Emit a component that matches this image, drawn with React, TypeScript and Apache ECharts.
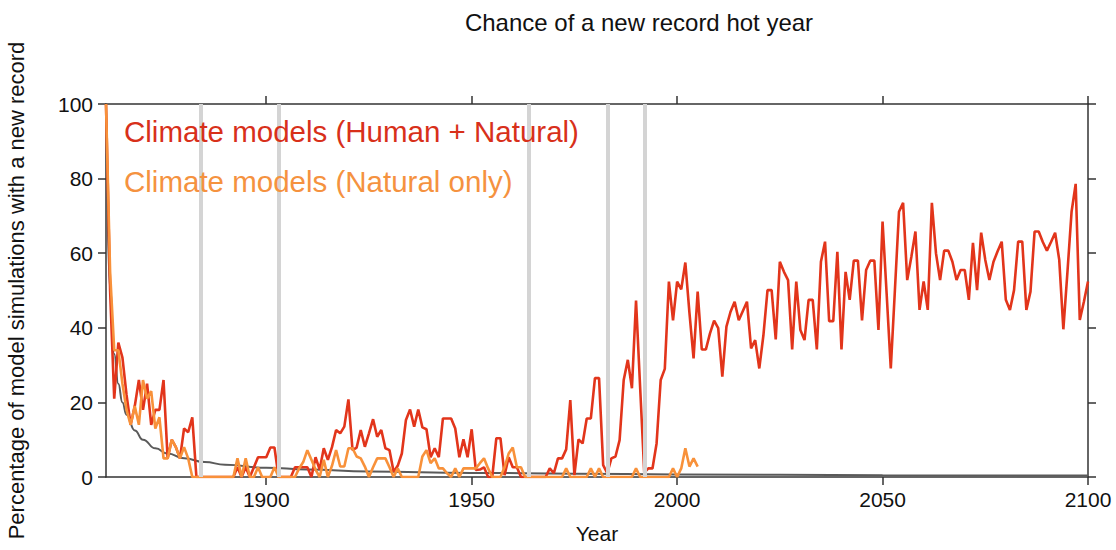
import React, { useEffect, useRef } from "react";
import * as echarts from "echarts";

const startYear = 1861;

// Climate models (Human + Natural), % of simulations with a new record, 1861-2100
const humanNatural = [
  100, 50, 21, 36, 32, 22, 14, 19, 26, 18,
  25, 14, 18, 18, 26, 5, 10, 8, 5, 13,
  12, 16, 0, 0, 0, 0, 0, 0, 0, 0,
  0, 0, 2.6, 0, 2.6, 0, 2.6, 5.3, 5.3, 5.3,
  7.9, 7.9, 0, 0, 0, 0, 2.6, 2.6, 2.6, 2.6,
  0, 5.3, 2, 7.7, 4.6, 8, 12.6, 11.7, 13.5, 20.8,
  7.2, 7.9, 12.6, 8.1, 11.7, 15.5, 10.8, 12.6, 7.7, 7.2,
  1.4, 3, 6.3, 15.3, 18.1, 13.5, 18.1, 13.3, 12.8, 5.3,
  7.7, 5.3, 15.7, 15.7, 15.7, 13, 5.3, 10.1, 5.3, 12.8,
  1.9, 2, 2.6, 0, 0, 10.4, 10.4, 0.5, 5.3, 2.6,
  2.6, 0, 0, 0, 0, 0, 0, 0, 2.3, 1,
  5, 5, 7.4, 20.6, 0.5, 10.1, 9, 15.7, 15.7, 26.5,
  26.5, 3.2, 1, 5, 5.5, 9.9, 26, 31.4, 23.8, 47.3,
  24, 1.2, 2.3, 2.3, 9, 26, 29, 52.4, 42, 52.4,
  50.3, 57.5, 44, 31.8, 49.7, 34.2, 34.2, 38.5, 41.9, 39.9,
  26.9, 40.3, 44.3, 47, 42, 44.5, 47, 34.5, 36.7, 29.1,
  38, 50.1, 50.1, 36.9, 57.7, 55, 52.8, 34.2, 52.4, 39.4,
  36.7, 47.5, 47.5, 34.2, 57.7, 63.1, 41.8, 41.8, 60.4, 34.2,
  55, 47.5, 58, 58, 42, 55.5, 58, 58, 39.4, 68.5,
  49, 29.1, 50, 71.1, 73.5, 52.8, 59, 65.8, 44.8, 52.4,
  44.8, 73.5, 60, 52.8, 60.7, 60.7, 57.7, 52.8, 55.5, 55.5,
  47.5, 62.8, 50.1, 65.5, 58.2, 52.8, 57.7, 60.5, 63.1, 47.5,
  44.8, 50.1, 63.1, 63.1, 44.8, 49.7, 65.8, 65.8, 63, 60.7,
  63, 65.5, 58.2, 39.6, 55, 71.1, 78.6, 42.1, 47, 52.4,
];

// Climate models (Natural only), 1861-2005
const naturalOnly = [
  100, 55, 34, 34, 25, 18, 14, 19, 14, 26,
  21, 23, 13, 16, 5, 5, 10, 8, 5, 8,
  5, 0, 0, 0, 0, 0, 0, 0, 0, 0,
  0, 0, 5, 0, 5, 0, 0, 2.6, 0, 0,
  0, 2.6, 0, 0, 0, 0, 0, 2.3, 4, 7.2,
  4.6, 2, 0, 4.6, 0, 3, 7.2, 2.8, 2.8, 7.7,
  7.7, 5.5, 5, 2.8, 0, 2.6, 5, 5, 5, 2.6,
  0, 2.3, 0, 0, 0, 0, 0, 5.5, 7.2, 3.7,
  5, 2.3, 2.3, 1, 0, 2.3, 0, 2.3, 2.3, 2.3,
  2.3, 3.7, 5, 2.3, 0, 0, 0, 2.6, 6.3, 7.9,
  2.6, 2.6, 0, 0, 0, 0, 0, 0, 0, 0,
  0, 0, 2.3, 0, 0, 0, 0, 0, 2.3, 0,
  2.3, 0, 0, 0, 0, 0, 0, 0, 0, 2.3,
  0, 0, 0, 0, 0, 0, 0, 0, 2.3, 0,
  2.3, 7.7, 2.8, 5, 2.8,
];

// Expected chance for an unchanging climate (dark grey curve), read at selected years
const curveYears = [1861, 1862, 1863, 1864, 1865, 1866, 1868, 1870, 1873, 1876, 1880, 1885, 1890, 1900, 1910, 1925, 1950, 1975, 2000, 2050, 2100];
const curveValues = [100, 50, 33, 25, 20, 16.7, 12.5, 10, 7.7, 6.3, 5, 4, 3.3, 2.5, 2, 1.5, 1.1, 0.9, 0.7, 0.5, 0.4];

// Major volcanic eruptions (grey vertical lines)
const eruptionYears = [1884, 1903, 1964, 1983, 1992];

const xTicks = [1900, 1950, 2000, 2050, 2100];

const titleText = "Chance of a new record hot year";
const legendHuman = "Climate models (Human + Natural)";
const legendNatural = "Climate models (Natural only)";

const FONT = "Liberation Sans";
const AXIS_COLOR = "#333333";
const RED = "#e2351b";
const ORANGE = "#f8913a";

export default function App() {
  const ref = useRef<HTMLDivElement>(null);

  useEffect(() => {
    document.body.style.margin = "0";
    const chart = echarts.init(ref.current as HTMLDivElement, null, { renderer: "svg" });
    const toPairs = (vals: number[]) => vals.map((v, i) => [startYear + i, v]);

    const axisLine = { show: true, onZero: false, lineStyle: { color: AXIS_COLOR, width: 1.5 } };
    const tickStyle = { color: AXIS_COLOR, width: 1.5 };

    chart.setOption({
      animation: false,
      backgroundColor: "#ffffff",
      textStyle: { fontFamily: FONT },
      grid: { left: 106, right: 28, top: 104, bottom: 73, containLabel: false, outerBoundsMode: "none" },
      graphic: [
        {
          type: "text",
          x: 639,
          y: 22,
          style: {
            text: titleText,
            fill: "#111111",
            fontSize: 24,
            fontFamily: FONT,
            textAlign: "center",
            textVerticalAlign: "middle",
          },
        },
        {
          type: "text",
          x: 124,
          y: 131,
          z: 10,
          style: {
            text: legendHuman,
            fill: "#d8301a",
            fontSize: 29.5,
            fontFamily: FONT,
            textAlign: "left",
            textVerticalAlign: "middle",
          },
        },
        {
          type: "text",
          x: 124,
          y: 181,
          z: 10,
          style: {
            text: legendNatural,
            fill: "#f5923f",
            fontSize: 29.5,
            fontFamily: FONT,
            textAlign: "left",
            textVerticalAlign: "middle",
          },
        },
      ],
      xAxis: [
        {
          type: "value",
          position: "bottom",
          min: 1861,
          max: 2100,
          axisLine,
          axisTick: { show: true, length: 8, customValues: xTicks, lineStyle: tickStyle },
          axisLabel: {
            customValues: xTicks,
            fontSize: 21,
            color: "#111111",
            margin: 12,
            fontFamily: FONT,
            formatter: (v: number) => String(v),
          },
          splitLine: { show: false },
          name: "Year",
          nameLocation: "middle",
          nameGap: 46,
          nameTextStyle: { fontSize: 21, color: "#111111", fontFamily: FONT },
        },
        {
          type: "value",
          position: "top",
          min: 1861,
          max: 2100,
          axisLine,
          axisTick: { show: true, length: 8, customValues: xTicks, lineStyle: tickStyle },
          axisLabel: { show: false },
          splitLine: { show: false },
        },
      ],
      yAxis: [
        {
          type: "value",
          position: "left",
          min: 0,
          max: 100,
          interval: 20,
          axisLine,
          axisTick: { show: true, length: 8, lineStyle: tickStyle },
          axisLabel: { fontSize: 21, color: "#111111", margin: 13, fontFamily: FONT },
          splitLine: { show: false },
          name: "Percentage of model simulations with a new record",
          nameLocation: "middle",
          nameGap: 79,
          nameTextStyle: { fontSize: 22, color: "#111111", fontFamily: FONT },
        },
        {
          type: "value",
          position: "right",
          min: 0,
          max: 100,
          interval: 20,
          axisLine,
          axisTick: { show: true, length: 8, lineStyle: tickStyle },
          axisLabel: { show: false },
          splitLine: { show: false },
        },
      ],
      series: [
        {
          name: "Volcanic eruptions",
          type: "line",
          z: 1,
          data: eruptionYears.map((y) => [y, 0]),
          showSymbol: false,
          lineStyle: { opacity: 0 },
          silent: true,
          markLine: {
            silent: true,
            symbol: ["none", "none"],
            label: { show: false },
            lineStyle: { color: "#d4d4d4", width: 4, type: "solid" },
            data: eruptionYears.map((y) => ({ xAxis: y })),
          },
        },
        {
          name: "Unchanging climate",
          type: "line",
          z: 2,
          data: curveYears.map((y, i) => [y, curveValues[i]]),
          showSymbol: false,
          smooth: 0.5,
          smoothMonotone: "x",
          lineStyle: { color: "#5a5a5a", width: 2 },
        },
        {
          name: legendHuman,
          type: "line",
          z: 3,
          data: toPairs(humanNatural),
          showSymbol: false,
          lineStyle: { color: RED, width: 2.6 },
        },
        {
          name: legendNatural,
          type: "line",
          z: 4,
          data: toPairs(naturalOnly),
          showSymbol: false,
          lineStyle: { color: ORANGE, width: 2.6 },
        },
      ],
    });

    return () => chart.dispose();
  }, []);

  return <div ref={ref} style={{ width: 1116, height: 550 }} />;
}
